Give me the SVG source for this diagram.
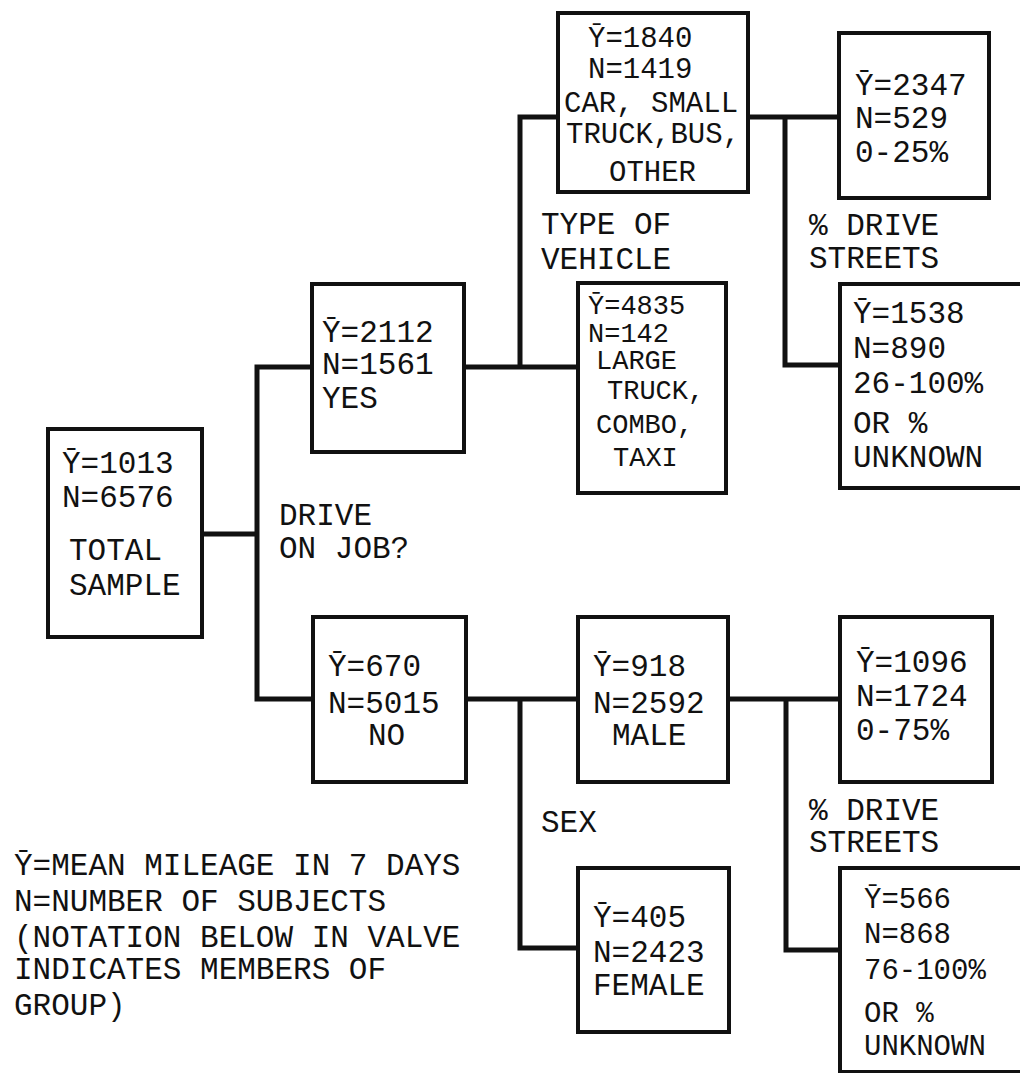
<svg xmlns="http://www.w3.org/2000/svg" width="1020" height="1073" viewBox="0 0 1020 1073">
<style>
.box{fill:#fff;stroke:#111;stroke-width:4}
.c{fill:none;stroke:#111;stroke-width:5;stroke-linejoin:miter;stroke-linecap:square}
text{font-family:"Liberation Mono","DejaVu Sans Mono",monospace;font-size:31px;fill:#111}
.s27{font-size:27px}
.s29{font-size:29px}
</style>
<rect width="1020" height="1073" fill="#fff"/>
<g id="connectors">
<path class="c" d="M202,534 H257 M257,367 V699 M257,367 H312 M257,699 H313"/>
<path class="c" d="M464,367 H578 M520,367 V117 M520,117 H558"/>
<path class="c" d="M748,117 H839 M785,117 V365 M785,365 H840"/>
<path class="c" d="M466,699 H578 M520,699 V948 M520,948 H578"/>
<path class="c" d="M728,699 H840 M786,699 V950 M786,950 H840"/>
</g>
<g id="n-total">
<rect class="box" x="48" y="429" width="154" height="208"/>
<text x="62" y="473">Ȳ=1013</text>
<text x="62" y="507">N=6576</text>
<text x="69" y="560">TOTAL</text>
<text x="69" y="595">SAMPLE</text>
</g>
<g id="n-yes">
<rect class="box" x="312" y="284" width="152" height="168"/>
<text x="322" y="342">Ȳ=2112</text>
<text x="322" y="374">N=1561</text>
<text x="322" y="408">YES</text>
</g>
<g id="n-car" class="s29">
<rect class="box" x="558" y="13" width="190" height="179"/>
<text class="s29" x="588" y="47">Ȳ=1840</text>
<text class="s29" x="588" y="78">N=1419</text>
<text class="s29" x="564" y="112">CAR, SMALL</text>
<text class="s29" x="566" y="143">TRUCK,BUS,</text>
<text class="s29" x="609" y="181">OTHER</text>
</g>
<g id="n-large">
<rect class="box" x="578" y="283" width="148" height="210"/>
<text class="s27" x="588" y="314">Ȳ=4835</text>
<text class="s27" x="588" y="342">N=142</text>
<text class="s27" x="596" y="369">LARGE</text>
<text class="s27" x="607" y="399">TRUCK,</text>
<text class="s27" x="596" y="433">COMBO,</text>
<text class="s27" x="613" y="466">TAXI</text>
</g>
<g id="n-2347">
<rect class="box" x="839" y="33" width="150" height="165"/>
<text x="855" y="95">Ȳ=2347</text>
<text x="855" y="128">N=529</text>
<text x="855" y="162">0-25%</text>
</g>
<g id="n-1538">
<rect class="box" x="840" y="284" width="200" height="204"/>
<text x="853" y="323">Ȳ=1538</text>
<text x="853" y="358">N=890</text>
<text x="853" y="393">26-100%</text>
<text x="853" y="433">OR %</text>
<text x="853" y="467">UNKNOWN</text>
</g>
<g id="n-no">
<rect class="box" x="313" y="617" width="153" height="165"/>
<text x="328" y="676">Ȳ=670</text>
<text x="328" y="713">N=5015</text>
<text x="368" y="745">NO</text>
</g>
<g id="n-male">
<rect class="box" x="578" y="617" width="150" height="165"/>
<text x="593" y="676">Ȳ=918</text>
<text x="593" y="713">N=2592</text>
<text x="612" y="745">MALE</text>
</g>
<g id="n-female">
<rect class="box" x="578" y="868" width="151" height="164"/>
<text x="593" y="927">Ȳ=405</text>
<text x="593" y="962">N=2423</text>
<text x="593" y="995">FEMALE</text>
</g>
<g id="n-1096">
<rect class="box" x="840" y="617" width="152" height="165"/>
<text x="856" y="672">Ȳ=1096</text>
<text x="856" y="706">N=1724</text>
<text x="856" y="740">0-75%</text>
</g>
<g id="n-566">
<rect class="box" x="840" y="868" width="200" height="204"/>
<text class="s29" x="864" y="908">Ȳ=566</text>
<text class="s29" x="864" y="943">N=868</text>
<text class="s29" x="864" y="979">76-100%</text>
<text class="s29" x="864" y="1022">OR %</text>
<text class="s29" x="864" y="1055">UNKNOWN</text>
</g>
<g id="labels">
<text x="279" y="525">DRIVE</text>
<text x="279" y="558">ON JOB?</text>
<text x="541" y="234">TYPE OF</text>
<text x="541" y="269">VEHICLE</text>
<text x="809" y="235">% DRIVE</text>
<text x="809" y="268">STREETS</text>
<text x="541" y="832">SEX</text>
<text x="809" y="820">% DRIVE</text>
<text x="809" y="852">STREETS</text>
</g>
<g id="legend">
<text x="14" y="875">Ȳ=MEAN MILEAGE IN 7 DAYS</text>
<text x="14" y="911">N=NUMBER OF SUBJECTS</text>
<text x="14" y="947">(NOTATION BELOW IN VALVE</text>
<text x="14" y="979">INDICATES MEMBERS OF</text>
<text x="14" y="1015">GROUP)</text>
</g>
</svg>
